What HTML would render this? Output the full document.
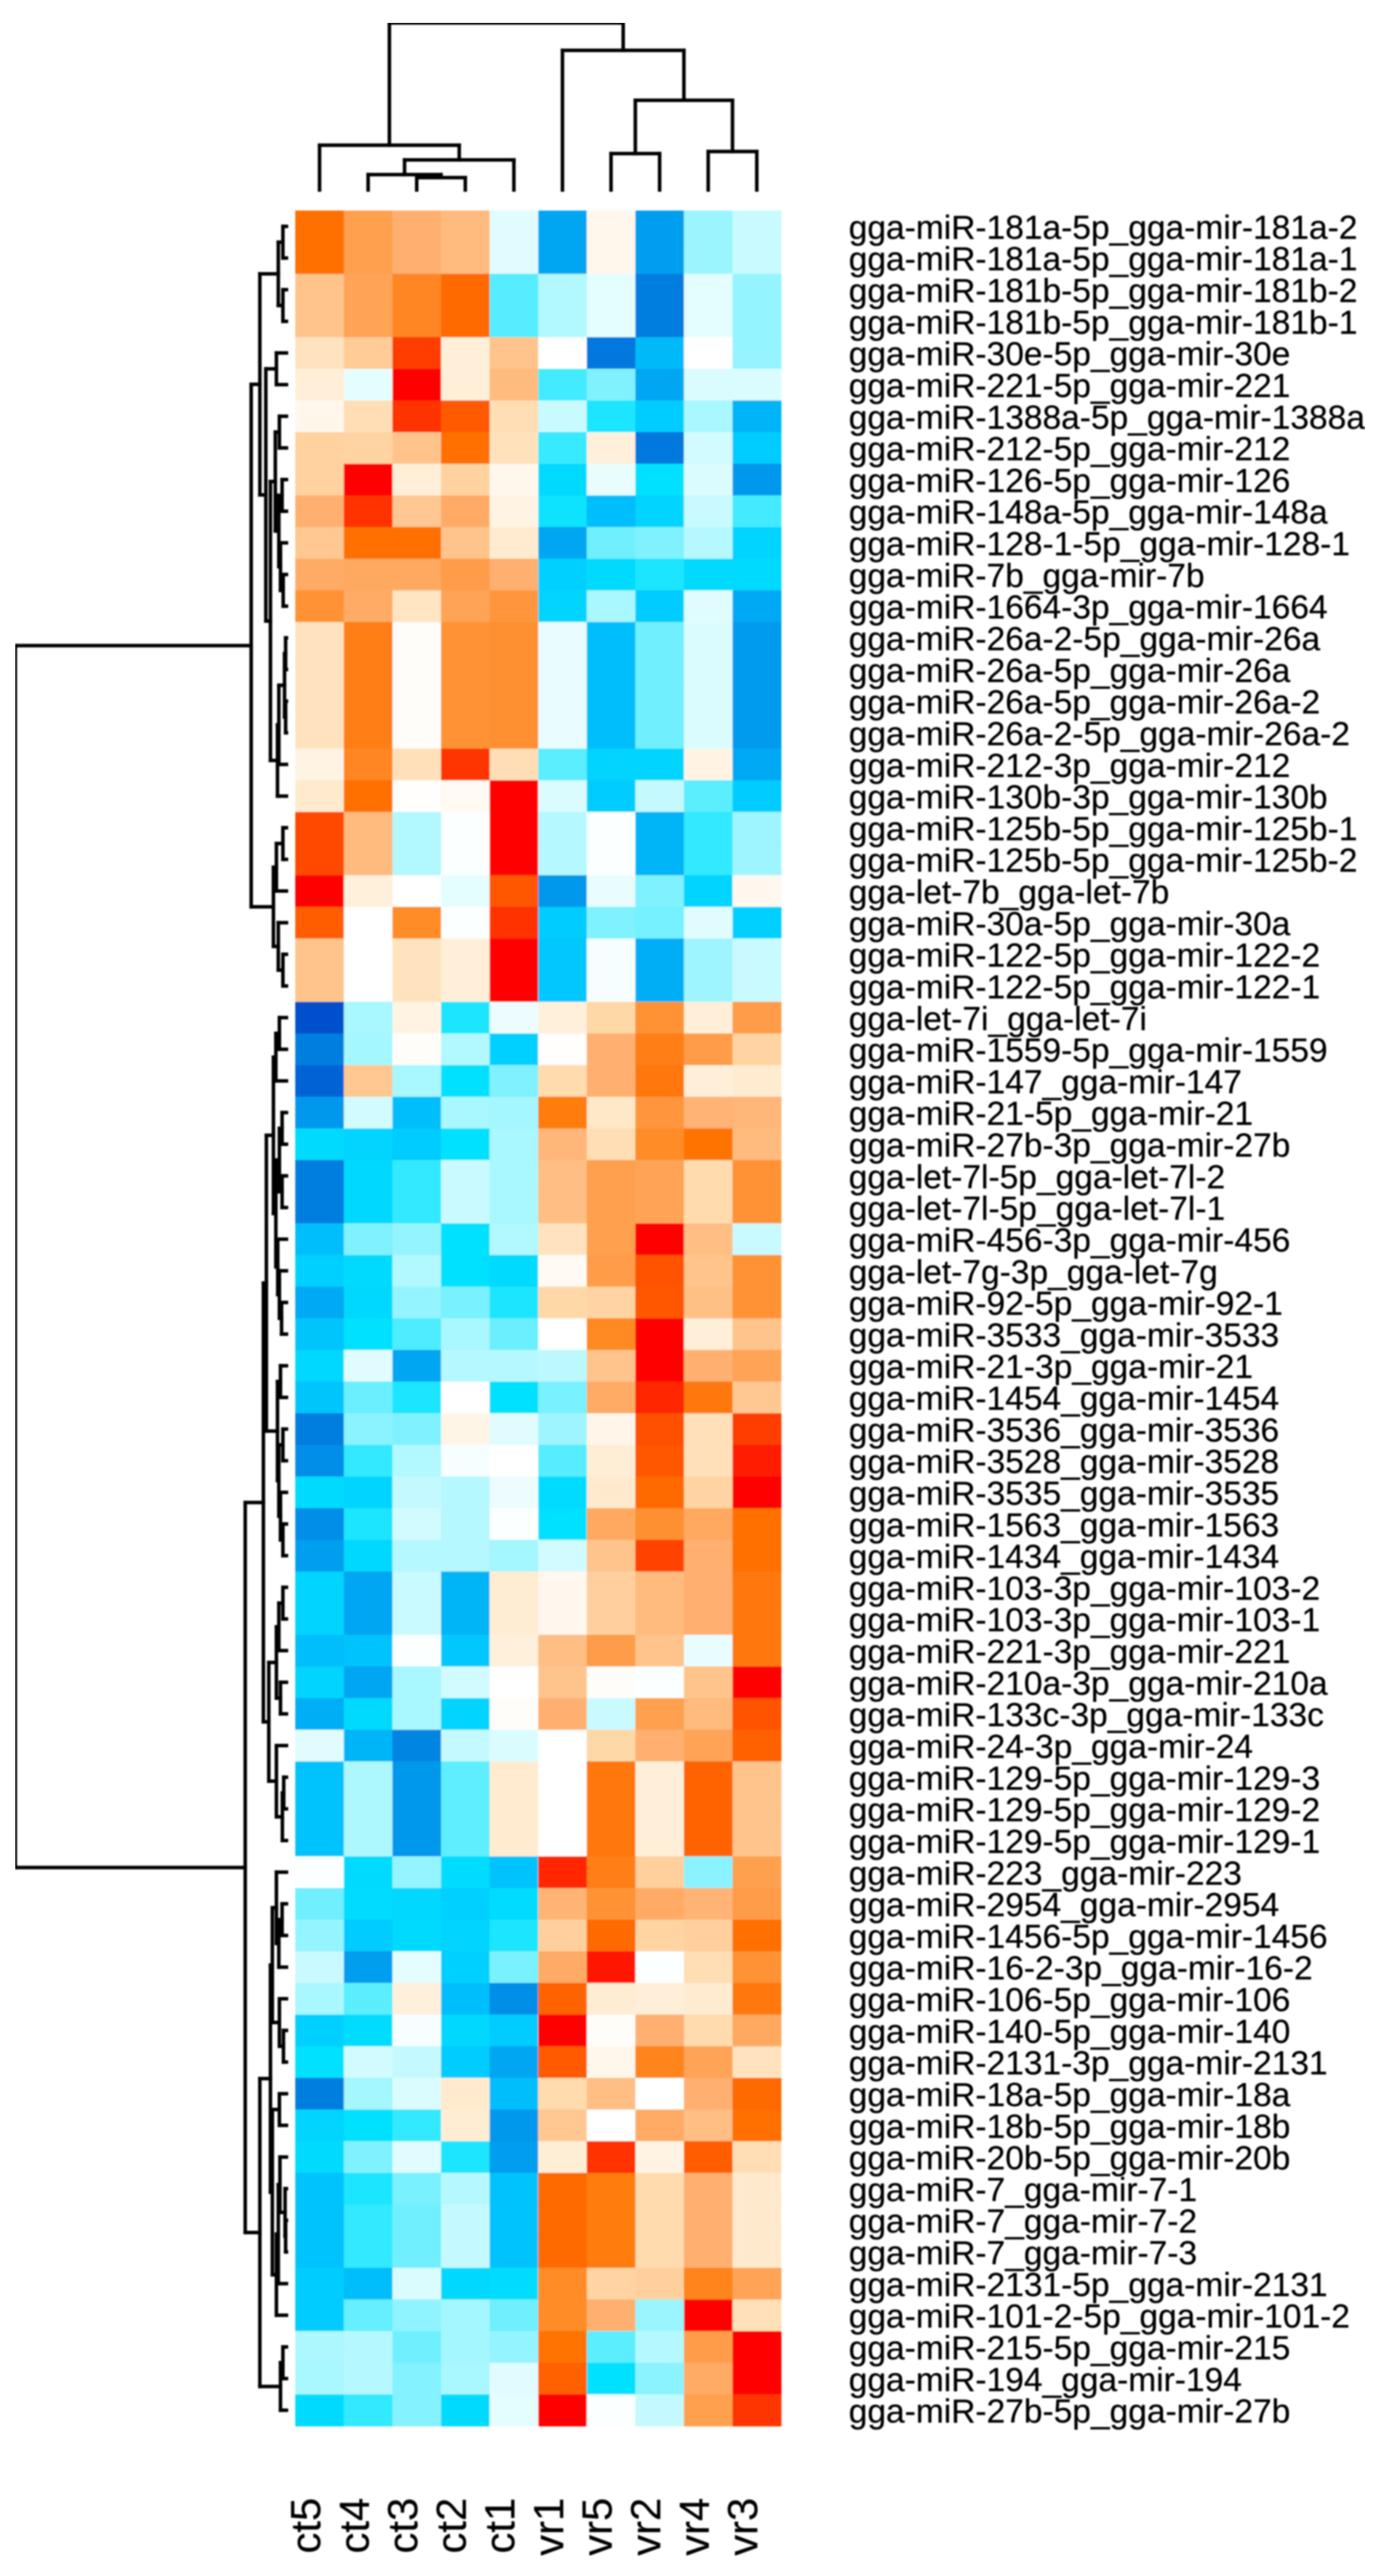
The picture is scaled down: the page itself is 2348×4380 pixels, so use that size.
<!DOCTYPE html>
<html lang="en">
<head>
<meta charset="utf-8">
<title>miRNA expression heatmap</title>
<style>
  html, body { margin: 0; padding: 0; background: #ffffff; }
  svg { display: block; }
  text { font-family: "Liberation Sans", sans-serif; fill: #000000; stroke: #000000; stroke-width: 0.4; }
</style>
</head>
<body>
<svg id="chart" xmlns="http://www.w3.org/2000/svg" width="2348" height="4380" viewBox="0 0 2348 4380">
  <defs>
    <filter id="soft" x="0" y="0" width="100%" height="100%" filterUnits="objectBoundingBox">
      <feGaussianBlur stdDeviation="1.2"/>
    </filter>
  </defs>
  <rect x="0" y="0" width="2348" height="4380" fill="#ffffff"/>
  <g id="root" filter="url(#soft)"></g>
</svg>
<script>
const columnLabels = ["ct5","ct4","ct3","ct2","ct1","vr1","vr5","vr2","vr4","vr3"];

const rowLabels = [
"gga-miR-181a-5p_gga-mir-181a-2","gga-miR-181a-5p_gga-mir-181a-1","gga-miR-181b-5p_gga-mir-181b-2","gga-miR-181b-5p_gga-mir-181b-1",
"gga-miR-30e-5p_gga-mir-30e","gga-miR-221-5p_gga-mir-221","gga-miR-1388a-5p_gga-mir-1388a","gga-miR-212-5p_gga-mir-212",
"gga-miR-126-5p_gga-mir-126","gga-miR-148a-5p_gga-mir-148a","gga-miR-128-1-5p_gga-mir-128-1","gga-miR-7b_gga-mir-7b",
"gga-miR-1664-3p_gga-mir-1664","gga-miR-26a-2-5p_gga-mir-26a","gga-miR-26a-5p_gga-mir-26a","gga-miR-26a-5p_gga-mir-26a-2",
"gga-miR-26a-2-5p_gga-mir-26a-2","gga-miR-212-3p_gga-mir-212","gga-miR-130b-3p_gga-mir-130b","gga-miR-125b-5p_gga-mir-125b-1",
"gga-miR-125b-5p_gga-mir-125b-2","gga-let-7b_gga-let-7b","gga-miR-30a-5p_gga-mir-30a","gga-miR-122-5p_gga-mir-122-2",
"gga-miR-122-5p_gga-mir-122-1","gga-let-7i_gga-let-7i","gga-miR-1559-5p_gga-mir-1559","gga-miR-147_gga-mir-147",
"gga-miR-21-5p_gga-mir-21","gga-miR-27b-3p_gga-mir-27b","gga-let-7l-5p_gga-let-7l-2","gga-let-7l-5p_gga-let-7l-1",
"gga-miR-456-3p_gga-mir-456","gga-let-7g-3p_gga-let-7g","gga-miR-92-5p_gga-mir-92-1","gga-miR-3533_gga-mir-3533",
"gga-miR-21-3p_gga-mir-21","gga-miR-1454_gga-mir-1454","gga-miR-3536_gga-mir-3536","gga-miR-3528_gga-mir-3528",
"gga-miR-3535_gga-mir-3535","gga-miR-1563_gga-mir-1563","gga-miR-1434_gga-mir-1434","gga-miR-103-3p_gga-mir-103-2",
"gga-miR-103-3p_gga-mir-103-1","gga-miR-221-3p_gga-mir-221","gga-miR-210a-3p_gga-mir-210a","gga-miR-133c-3p_gga-mir-133c",
"gga-miR-24-3p_gga-mir-24","gga-miR-129-5p_gga-mir-129-3","gga-miR-129-5p_gga-mir-129-2","gga-miR-129-5p_gga-mir-129-1",
"gga-miR-223_gga-mir-223","gga-miR-2954_gga-mir-2954","gga-miR-1456-5p_gga-mir-1456","gga-miR-16-2-3p_gga-mir-16-2",
"gga-miR-106-5p_gga-mir-106","gga-miR-140-5p_gga-mir-140","gga-miR-2131-3p_gga-mir-2131","gga-miR-18a-5p_gga-mir-18a",
"gga-miR-18b-5p_gga-mir-18b","gga-miR-20b-5p_gga-mir-20b","gga-miR-7_gga-mir-7-1","gga-miR-7_gga-mir-7-2",
"gga-miR-7_gga-mir-7-3","gga-miR-2131-5p_gga-mir-2131","gga-miR-101-2-5p_gga-mir-101-2","gga-miR-215-5p_gga-mir-215",
"gga-miR-194_gga-mir-194","gga-miR-27b-5p_gga-mir-27b"];

/* expression scale -10 (dark blue) .. 0 (white) .. 10 (red); one row per miRNA, columns as columnLabels */
const expression = [
[8,6,5,4.5,-0.7,-7.5,0.7,-7.8,-2.2,-1.2],
[8,6,5,4.5,-0.7,-7.5,0.7,-7.8,-2.2,-1.2],
[4,5.8,7.2,8.2,-3.5,-1.7,-0.6,-8.8,-0.6,-2.3],
[4,5.8,7.2,8.2,-3.5,-1.7,-0.6,-8.8,-0.6,-2.3],
[2.3,3.6,9.3,1.4,4,0,-9,-6.8,0,-2.3],
[1.4,-0.6,10,1.4,4.5,-3.8,-2.7,-7.5,-0.8,-0.8],
[0.7,2.6,9.5,8.7,2.6,-1.2,-4.5,-6,-1.9,-7],
[3.3,3.2,4,8,2.4,-4,1.3,-9,-1,-6],
[3.3,10,1.4,3.3,0.7,-5.3,-0.5,-5,-0.8,-8],
[5,9.5,3.8,5.3,1,-4.8,-6.6,-5.6,-1.2,-3.8],
[3.8,8,8,4,1.7,-7.5,-3,-2.7,-1.6,-5.6],
[5.3,5.5,5.5,6.2,5,-5.8,-5.3,-4.5,-5.3,-5.3],
[6.7,5.3,2.2,5.8,6.5,-5.6,-1.9,-6,-0.7,-7.4],
[2.3,7.5,0.2,6.7,6.8,-0.5,-6.6,-3,-0.8,-7.9],
[2.3,7.5,0.2,6.7,6.8,-0.5,-6.6,-3,-0.8,-7.9],
[2.3,7.5,0.2,6.7,6.8,-0.5,-6.6,-3,-0.8,-7.9],
[2.3,7.5,0.2,6.7,6.8,-0.5,-6.6,-3,-0.8,-7.9],
[1,7.2,2.5,9.4,2.6,-3.4,-5.6,-5.6,1,-7.4],
[1.8,8,0.1,0.5,10,-0.8,-6,-1.3,-3.4,-6],
[9.1,4.5,-1.7,-0.1,10,-1.6,-0.1,-7,-4.1,-2.1],
[9.1,4.5,-1.7,-0.1,10,-1.6,-0.1,-7,-4.1,-2.1],
[10,1.3,0,-0.6,8.8,-8,-0.5,-2.7,-5.6,0.6],
[8.6,0,7,-0.1,9.5,-6,-2.7,-2.9,-0.7,-5.8],
[4,0,2.3,1.4,10,-6.2,-0.2,-7.2,-2.1,-1.2],
[4,0,2.3,1.4,10,-6.2,-0.2,-7.2,-2.1,-1.2],
[-10,-1.9,1,-4.5,-0.4,1.3,3,6.7,1.4,6.2],
[-8.8,-2,0.2,-1.7,-5.8,0.1,5,7.5,6.2,3.2],
[-9.5,3.8,-1.9,-5,-2.7,2.8,5,7.7,1.4,1.7],
[-8,-1,-6.6,-1.9,-2,7.6,2,6.5,4.8,4.7],
[-5.3,-5.6,-6,-5,-1.9,4.7,2.6,7,7.9,4.5],
[-8.8,-5.4,-4.1,-1.2,-1.9,4.3,6,5.8,2.8,6.7],
[-8.8,-5.4,-4.1,-1.2,-1.9,4.3,6,5.8,2.8,6.7],
[-6.6,-2.7,-2.3,-5,-1.7,2.3,6,10,4.3,-1.2],
[-5.8,-5.3,-1.7,-5,-5.3,0.4,6.2,8.9,4,6.7],
[-7.4,-5.4,-2.3,-2.8,-4.5,3,3.2,8.8,4.2,6.7],
[-6.3,-5,-3.6,-1.9,-3.1,0,7.1,10,1.4,4],
[-5.4,-0.7,-7.5,-1.6,-1.6,-1.5,4,10,5,5.8],
[-6.3,-3.1,-4.5,0,-5,-2.8,5.3,9.6,7.7,3.8],
[-8.8,-2.5,-2.7,0.9,-0.7,-2.1,0.8,9,2.5,9.3],
[-8.3,-4.1,-1.7,-0.2,0,-3.5,1.5,8.8,2.5,9.7],
[-5.3,-5.6,-1.3,-1.6,-0.4,-5.2,1.8,8.2,3.2,10],
[-8.3,-4.5,-1,-1.6,-0.1,-5,5.5,6.8,5.5,8],
[-7.8,-5.4,-1.6,-1.6,-2,-1,4,9.2,5,8],
[-5.6,-7.5,-1.2,-7,1.6,0.6,3.4,4.5,5,7.7],
[-5.6,-7.5,-1.2,-7,1.6,0.6,3.4,4.5,5,7.7],
[-6.6,-6.4,-0.1,-6.2,1.3,4.3,6.2,4,-0.5,7.7],
[-5.6,-7.5,-1.9,-1,0,4,0.2,-0.1,4,10],
[-7.2,-5.3,-1.9,-5.6,0.2,5,-1.2,6,4.5,8.9],
[-0.7,-7,-8.6,-1.3,-0.8,0,3,5,5.8,8.5],
[-6.4,-1.8,-8,-3.3,1.7,0,7.7,1.4,8.4,4],
[-6.4,-1.8,-8,-3.3,1.7,0,7.7,1.4,8.4,4],
[-6.4,-1.8,-8,-3.3,1.7,0,7.7,1.4,8.4,4],
[-0.1,-5.3,-2.3,-5.2,-6.4,9.6,7.5,3.4,-2.5,6],
[-3,-5.2,-5.4,-5.8,-5.2,4.8,6.7,5.3,4.8,6.2],
[-2.3,-6,-5.3,-5.6,-4.5,3.4,8.2,3.2,3.4,8],
[-1.2,-7.8,-0.6,-5.8,-2.8,5.3,9.8,-0.1,2.6,6.7],
[-1.9,-3.4,1.3,-6.6,-8.3,8.4,1.6,1.4,1.7,7.7],
[-5.8,-5.2,-0.2,-5.4,-6,10,0.2,5,2.8,5.5],
[-5,-1,-1.3,-6,-7.5,8.7,0.7,7.3,5.8,2.3],
[-8.8,-2,-0.8,1.8,-6.6,2.8,4.3,0,5,8.2],
[-5.6,-5,-4.1,1.6,-8,3.8,0,5.3,4.3,8],
[-5.3,-2.7,-0.7,-4.5,-7.8,1.5,9.5,1,8.6,2.6],
[-6.4,-4.5,-2.8,-1.6,-6.4,8.2,7.6,2.8,5,1.8],
[-6.4,-4.1,-3,-1.3,-6.4,8.2,7.6,2.8,5,1.8],
[-6.4,-4.1,-3,-1.3,-6.4,8.2,7.6,2.8,5,1.8],
[-6,-6.6,-0.8,-5.4,-5.2,7,3.2,3.4,7.3,5.8],
[-6,-3.2,-2.4,-2,-3,7,5,-2.2,10,2.5],
[-1.8,-1.6,-3,-2,-2.3,7.9,-3.4,-1.6,6.2,10],
[-1.9,-1.6,-2.6,-1.9,-0.7,8.5,-5,-2.5,5.3,10],
[-5.3,-4.1,-2.6,-5.3,-0.6,10,-0.1,-1.3,6,9.4]
];

/* dendrograms as nested merges: [mergeHeight, left, right]; a bare number is a leaf position (1-based) */
const columnTree = [100,[26.8,1,[18,[9.2,2,[7.4,3,4]],5]],[83.6,6,[53.7,[21.8,7,8],[23,9,10]]]];

const rowTreeUpper = [13,
  [9.8,
    [3,[1.3,1,2],[1.3,3,4]],
    [7.6,
      [3.7,5,6],
      [5.9,
        [4.1,[2.6,7,8],[2.8,[1.6,9,10],[2.2,11,[1.2,12,13]]]],
        [3.3,[2.8,[0.7,[0.3,14,15],[0.3,16,17]],18],19]]]],
  [4.8,[3.7,[1.3,20,21],22],[3,23,[1.3,24,25]]]];

const rowTreeLowerA = [8.5,
  [7.4,
    [4.8,
      [3.9,[2.6,26,27],28],
      [3.9,[2.6,[1.6,29,30],[1.6,31,32]],[3.2,33,[2.6,34,[1.8,35,36]]]]],
    [3.3,[2.2,37,38],[2.8,[1.3,39,40],[2.2,41,[1.3,42,43]]]]],
  [6.5,
    [3.7,[2.8,[1.3,44,45],46],[2.2,47,48]],
    [3.7,49,[1.5,[1,50,51],52]]]];

const rowTreeLowerB = [9.8,
  [5.9,
    [5.2,[3.7,53,[2.8,[1.6,54,55],56]],[2.6,57,[1.1,58,59]]],
    [5.2,[2.6,60,61],[3.7,[3,[2.4,62,[0.5,63,[0.3,64,65]]],66],67]]],
  [2.2,[1.3,68,69],70]];

const rowTree = [100, rowTreeUpper, [15.2, rowTreeLowerA, rowTreeLowerB]];

/* colour ramp: value -> hex */
const rampValues = [-10,-9,-8,-7,-6,-5,-4,-3,-2,-1,0,1,2,3,4,5,6,7,8,9,9.5,10];
const rampColors = ["#0050cc","#0078dd","#0098ec","#00b4f8","#00ccff","#00e0ff","#38eaff","#70f0ff","#a4f6ff","#d2fbff","#ffffff","#fff4e4","#ffe8c8","#ffd8a8","#ffc48c","#ffb070","#ffa050","#ff8c28","#ff7000","#ff5000","#ff3000","#ff0000"];

const SVGNS = "http://www.w3.org/2000/svg";
const root = document.getElementById("root");

/* layout */
const plot = { left: 502, right: 1328, top: 358, bottom: 4125 };
const colStep = (plot.right - plot.left) / columnLabels.length;
const rowStep = (plot.bottom - plot.top) / rowLabels.length;

/* axis functions */
const colX = i => plot.left + colStep * i;
const colCenter = i => colX(i) + colStep / 2;
const rowY = i => plot.top + rowStep * i;
const rowCenter = i => rowY(i) + rowStep / 2;
const rowTreeX = h => 487 - h * 4.61;
const colTreeY = h => 323 - h * 2.84;

function hexToRgb(h) {
  return [parseInt(h.slice(1, 3), 16), parseInt(h.slice(3, 5), 16), parseInt(h.slice(5, 7), 16)];
}
function colorOf(v) {
  const c = Math.max(rampValues[0], Math.min(rampValues[rampValues.length - 1], v));
  let k = 0;
  while (k < rampValues.length - 2 && c > rampValues[k + 1]) k++;
  const t = (c - rampValues[k]) / (rampValues[k + 1] - rampValues[k]);
  const a = hexToRgb(rampColors[k]);
  const b = hexToRgb(rampColors[k + 1]);
  const m = a.map((x, n) => Math.round(x + (b[n] - x) * t));
  return "rgb(" + m.join(",") + ")";
}

/* heatmap cells */
const cellsGroup = document.createElementNS(SVGNS, "g");


root.appendChild(cellsGroup);
expression.forEach((rowValues, r) => {
  rowValues.forEach((v, c) => {
    const cell = document.createElementNS(SVGNS, "rect");
    
    
    cell.setAttribute("x", colX(c));
    cell.setAttribute("y", rowY(r));
    cell.setAttribute("width", colStep + 0.6);
    cell.setAttribute("height", rowStep + 0.6);
    cell.setAttribute("fill", colorOf(v));
    cellsGroup.appendChild(cell);
  });
});

/* row labels */
const rowLabelGroup = document.createElementNS(SVGNS, "g");


root.appendChild(rowLabelGroup);
rowLabels.forEach((label, r) => {
  const t = document.createElementNS(SVGNS, "text");
  
  
  t.setAttribute("x", 1443);
  t.setAttribute("y", rowCenter(r) + 21);
  t.setAttribute("font-size", "57");
  t.textContent = label;
  rowLabelGroup.appendChild(t);
});

/* column labels */
const colLabelGroup = document.createElementNS(SVGNS, "g");


root.appendChild(colLabelGroup);
columnLabels.forEach((label, c) => {
  const t = document.createElementNS(SVGNS, "text");
  
  
  const bx = colCenter(c) + 1;
  t.setAttribute("transform", "translate(" + bx + " 4247) rotate(-90)");
  t.setAttribute("text-anchor", "end");
  t.setAttribute("font-size", "71");
  t.textContent = label;
  colLabelGroup.appendChild(t);
});

/* dendrograms */
function addLine(group, x1, y1, x2, y2, name) {
  const l = document.createElementNS(SVGNS, "line");
  
  
  l.setAttribute("x1", x1);
  l.setAttribute("y1", y1);
  l.setAttribute("x2", x2);
  l.setAttribute("y2", y2);
  l.setAttribute("stroke", "#000");
  l.setAttribute("stroke-width", "6");
  l.setAttribute("stroke-linecap", "square");
  group.appendChild(l);
}

/* row tree: walks the nesting, returns leaf-axis midpoint */
function drawRowNode(node, group) {
  if (!Array.isArray(node)) return { pos: rowCenter(node - 1), h: 0 };
  const a = drawRowNode(node[1], group);
  const b = drawRowNode(node[2], group);
  const x = rowTreeX(node[0]);
  addLine(group, x, a.pos, x, b.pos, "row-dendrogram-merge");
  addLine(group, x, a.pos, rowTreeX(a.h), a.pos, "row-dendrogram-branch");
  addLine(group, x, b.pos, rowTreeX(b.h), b.pos, "row-dendrogram-branch");
  return { pos: (a.pos + b.pos) / 2, h: node[0] };
}
function drawColNode(node, group) {
  if (!Array.isArray(node)) return { pos: colCenter(node - 1), h: 0 };
  const a = drawColNode(node[1], group);
  const b = drawColNode(node[2], group);
  const y = colTreeY(node[0]);
  addLine(group, a.pos, y, b.pos, y, "column-dendrogram-merge");
  addLine(group, a.pos, y, a.pos, colTreeY(a.h), "column-dendrogram-branch");
  addLine(group, b.pos, y, b.pos, colTreeY(b.h), "column-dendrogram-branch");
  return { pos: (a.pos + b.pos) / 2, h: node[0] };
}
const rowTreeGroup = document.createElementNS(SVGNS, "g");


root.appendChild(rowTreeGroup);
drawRowNode(rowTree, rowTreeGroup);

const colTreeGroup = document.createElementNS(SVGNS, "g");


root.appendChild(colTreeGroup);
drawColNode(columnTree, colTreeGroup);
</script>
</body>
</html>
